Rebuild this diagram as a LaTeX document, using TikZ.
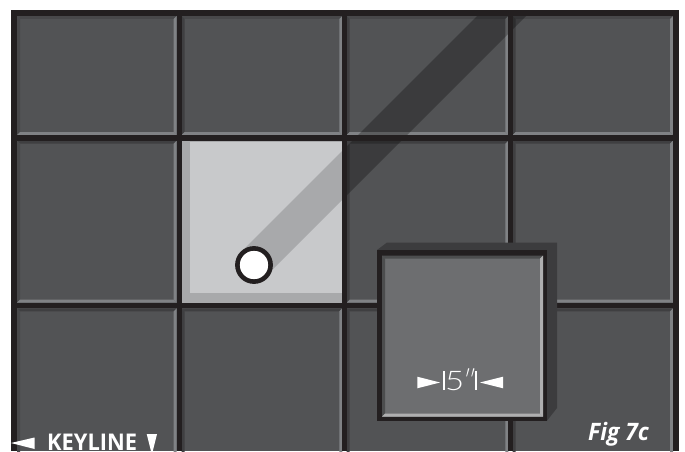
\documentclass[tikz,border=0pt]{standalone}
\usepackage{fontspec}
\setmainfont{Open Sans}
\newfontfamily\thinfont[FakeStretch=1.22]{Lato Light}
\newfontfamily\thinquote{Lato Light}
\newfontfamily\boldnarrow[FakeStretch=0.95]{Open Sans Bold}
\newfontfamily\italnarrow[FakeStretch=0.95]{Open Sans Bold Italic}
\definecolor{cellc}{HTML}{525355}
\definecolor{linec}{HTML}{231F20}
\definecolor{bevd}{HTML}{3F3F41}
\definecolor{bevs}{HTML}{48484A}
\definecolor{bevl}{HTML}{808285}
\definecolor{lightc}{HTML}{C8C9CB}
\definecolor{lightd}{HTML}{A8A9AB}
\definecolor{topc}{HTML}{6D6E70}
\definecolor{sidec}{HTML}{3C3C3E}
\tikzset{
  txt/.style={text=white,inner sep=0pt},
  wedge/.style={fill=white,draw=none},
}
\newcommand{\bcell}[7]{%
  % x0 y0 x1 y1 top left light
  \fill[#5] (#1,#2) -- (#3,#2) -- (#3-3,#2+3) -- (#1+3,#2+3) -- cycle;
  \fill[#6] (#1,#2) -- (#1,#4) -- (#1+3,#4-3) -- (#1+3,#2+3) -- cycle;
  \fill[#7] (#3,#2) -- (#3,#4) -- (#3-3,#4-3) -- (#3-3,#2+3) -- cycle;
  \fill[#7] (#1,#4) -- (#3,#4) -- (#3-3,#4-3) -- (#1+3,#4-3) -- cycle;
}
\begin{document}
\begin{tikzpicture}[x=1pt,y=-1pt]
\useasboundingbox (0,0) rectangle (685,452);
\fill[cellc] (10.5,10) rectangle (678.5,451);
% bevels
\begin{scope}
\clip (0,0) rectangle (685,451);
\foreach \xa/\xb/\lc in {17/176.7/bevs,181.7/342.3/bevd,346.7/508.3/bevd,512.5/673/bevd}{
  \foreach \ya/\yb/\tc in {16/135/bevs,140.7/302.7/bevd,308.3/470/bevd}{
    \bcell{\xa}{\ya}{\xb}{\yb}{\tc}{\lc}{bevl}
  }
}
\end{scope}
% light square
\fill[lightd] (181.7,140.7) rectangle (342.3,302.7);
\fill[lightc] (190,141.7) rectangle (342.3,293.3);
% long shadow
\begin{scope}
  \clip (181.7,140.7) rectangle (342.3,302.7);
  \fill[lightd] (245,248) -- (350,143) -- (350,192) -- (270,272) -- cycle;
\end{scope}
\begin{scope}
  \clip (342.3,16) rectangle (678,302.7);
  \fill[black,opacity=.28] (477,16) -- (526,16) -- (330,212) -- (330,163) -- cycle;
\end{scope}
% grid lines
\fill[linec] (10.5,10) rectangle (17,451);
\fill[linec] (176.7,10) rectangle (181.7,451);
\fill[linec] (342.3,10) rectangle (346.7,451);
\fill[linec] (508.3,10) rectangle (512.5,451);
\fill[linec] (673,10) rectangle (678.5,451);
\fill[linec] (10.5,10) rectangle (678.5,16);
\fill[linec] (10.5,135) rectangle (678.5,140.7);
\fill[linec] (10.5,302.7) rectangle (678.5,308.3);
% pin
\node[circle,draw=linec,fill=white,line width=4.6pt,minimum size=33.2pt,inner sep=0pt] (pin) at (254,265) {};
% raised tile
\fill[sidec] (377,250) -- (387,242.5) -- (557,242.5) -- (557,408) -- (547,420.7) -- cycle;
\fill[linec] (377,250) rectangle (547,420.7);
\fill[topc] (382,255.7) rectangle (543,416.7);
\bcell{382}{255.7}{543}{416.7}{black!30!topc}{black!30!topc}{topc!55!white}
% dimension
\fill[wedge] (417.3,376.7) -- (440,382.5) -- (417.3,388.3) -- cycle;
\fill[wedge] (503,376.7) -- (480,382.5) -- (503,388.3) -- cycle;
\fill[wedge] (443,371) rectangle (444.6,390);
\fill[wedge] (475.4,371) rectangle (477,390);
\node[txt,anchor=base,font=\thinfont\fontsize{27}{27}\selectfont] (dim) at (461,390) {5\kern-1pt{\thinquote″}};
% keyline
\fill[wedge] (11,443) -- (34.5,437.5) -- (34.5,449) -- cycle;
\node[txt,anchor=base west,font=\boldnarrow\fontsize{23}{23}\selectfont] (key) at (47,450.5) {KEYLINE};
\fill[wedge] (146.7,434) -- (157,434) -- (152.8,451) -- (151,451) -- cycle;
% fig label
\node[txt,anchor=base west,font=\italnarrow\fontsize{24}{24}\selectfont] (fig) at (588,440.7) {Fig 7c};
\end{tikzpicture}
\end{document}
